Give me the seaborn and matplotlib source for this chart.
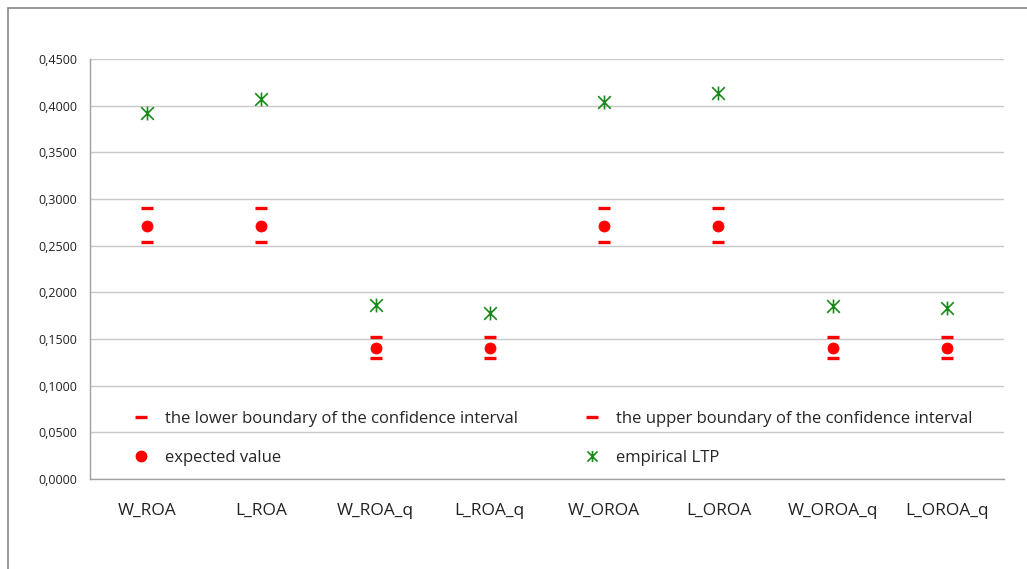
import matplotlib
matplotlib.use("Agg")
import numpy as np
import pandas as pd
import matplotlib.pyplot as plt
import seaborn as sns
from matplotlib.path import Path
from matplotlib.lines import Line2D
from matplotlib.ticker import FuncFormatter, FixedLocator

# -------------------- data --------------------
categories = ["W_ROA", "L_ROA", "W_ROA_q", "L_ROA_q",
              "W_OROA", "L_OROA", "W_OROA_q", "L_OROA_q"]
lower_bound = [0.2540, 0.2540, 0.1300, 0.1300, 0.2540, 0.2540, 0.1300, 0.1300]
upper_bound = [0.2900, 0.2900, 0.1520, 0.1520, 0.2900, 0.2900, 0.1520, 0.1520]
expected = [0.2715, 0.2715, 0.1405, 0.1405, 0.2715, 0.2715, 0.1405, 0.1405]
empirical = [0.3925, 0.4075, 0.1865, 0.1775, 0.4035, 0.4140, 0.1850, 0.1835]

df = pd.DataFrame({"cat": categories, "low": lower_bound, "up": upper_bound,
                   "exp": expected, "emp": empirical})

sns.set_style("white")
plt.rcParams['font.family'] = ['Open Sans', 'DejaVu Sans']

# excel-like star: x with a vertical line
star = Path([(-1, -1), (1, 1), (-1, 1), (1, -1), (0, -1.1), (0, 1.1)],
            [Path.MOVETO, Path.LINETO, Path.MOVETO, Path.LINETO, Path.MOVETO, Path.LINETO])

fig = plt.figure(figsize=(10.27, 5.69), dpi=100)
ax = fig.add_axes([90 / 1027, 1 - 479 / 569, 914 / 1027, 420 / 569])

red = "#ff0000"
green = "#1a8a1a"
sns.scatterplot(data=df, x="cat", y="low", marker="_", s=64, color=red,
                linewidth=2.4, ax=ax, zorder=3)
sns.scatterplot(data=df, x="cat", y="up", marker="_", s=64, color=red,
                linewidth=2.4, ax=ax, zorder=3)
sns.scatterplot(data=df, x="cat", y="exp", marker="o", s=62, color=red,
                edgecolor=red, ax=ax, zorder=3)
sns.scatterplot(data=df, x="cat", y="emp", marker=star, s=100, color=green,
                edgecolor=green, linewidth=1.2, ax=ax, zorder=3)

ax.set_xlim(-0.5, len(categories) - 0.5)
ax.set_ylim(0, 0.45)
ax.set_yticks(np.arange(0, 0.4501, 0.05))
ax.yaxis.set_major_formatter(FuncFormatter(lambda v, _: f"{v:.4f}".replace(".", ",")))
ax.grid(axis="y", color="#c8c8c8", linewidth=1)
ax.set_axisbelow(True)
ax.set_xlabel("")
ax.set_ylabel("")

ax.xaxis.set_minor_locator(FixedLocator(np.arange(-0.5, len(categories), 1)))
ax.tick_params(axis="x", which="major", length=0, pad=17, labelsize=12.5, colors="#222222")
ax.tick_params(axis="x", which="minor", length=5, width=1, color="#a0a0a0")
ax.tick_params(axis="y", length=5, width=1, color="#a0a0a0", labelsize=9, labelcolor="#222222", pad=4)

for s in ["top", "right"]:
    ax.spines[s].set_visible(False)
for s in ["left", "bottom"]:
    ax.spines[s].set_color("#a0a0a0")
    ax.spines[s].set_linewidth(1)

handles = [
    Line2D([], [], linestyle="none", marker="_", markersize=8, markeredgewidth=2.4, color=red),
    Line2D([], [], linestyle="none", marker="o", markersize=7.5, color=red),
    Line2D([], [], linestyle="none", marker="_", markersize=8, markeredgewidth=2.4, color=red),
    Line2D([], [], linestyle="none", marker=star, markersize=8, markeredgewidth=1.2, color=green),
]
labels = ["the lower boundary of the confidence interval", "expected value",
          "the upper boundary of the confidence interval", "empirical LTP"]
ax.legend(handles, labels, ncol=2, frameon=False, loc="lower left",
          bbox_to_anchor=(0.026, -0.005), fontsize=12, columnspacing=3.65,
          labelspacing=1.4, handletextpad=0.7, handlelength=1.5)

# outer chart frame
fig.add_artist(Line2D([8 / 1027, 8 / 1027], [0, 1 - 8 / 569], transform=fig.transFigure,
                      color="#888888", linewidth=1.2))
fig.add_artist(Line2D([8 / 1027, 1], [1 - 8 / 569, 1 - 8 / 569], transform=fig.transFigure,
                      color="#888888", linewidth=1.2))

fig.savefig("out.png", dpi=100)
